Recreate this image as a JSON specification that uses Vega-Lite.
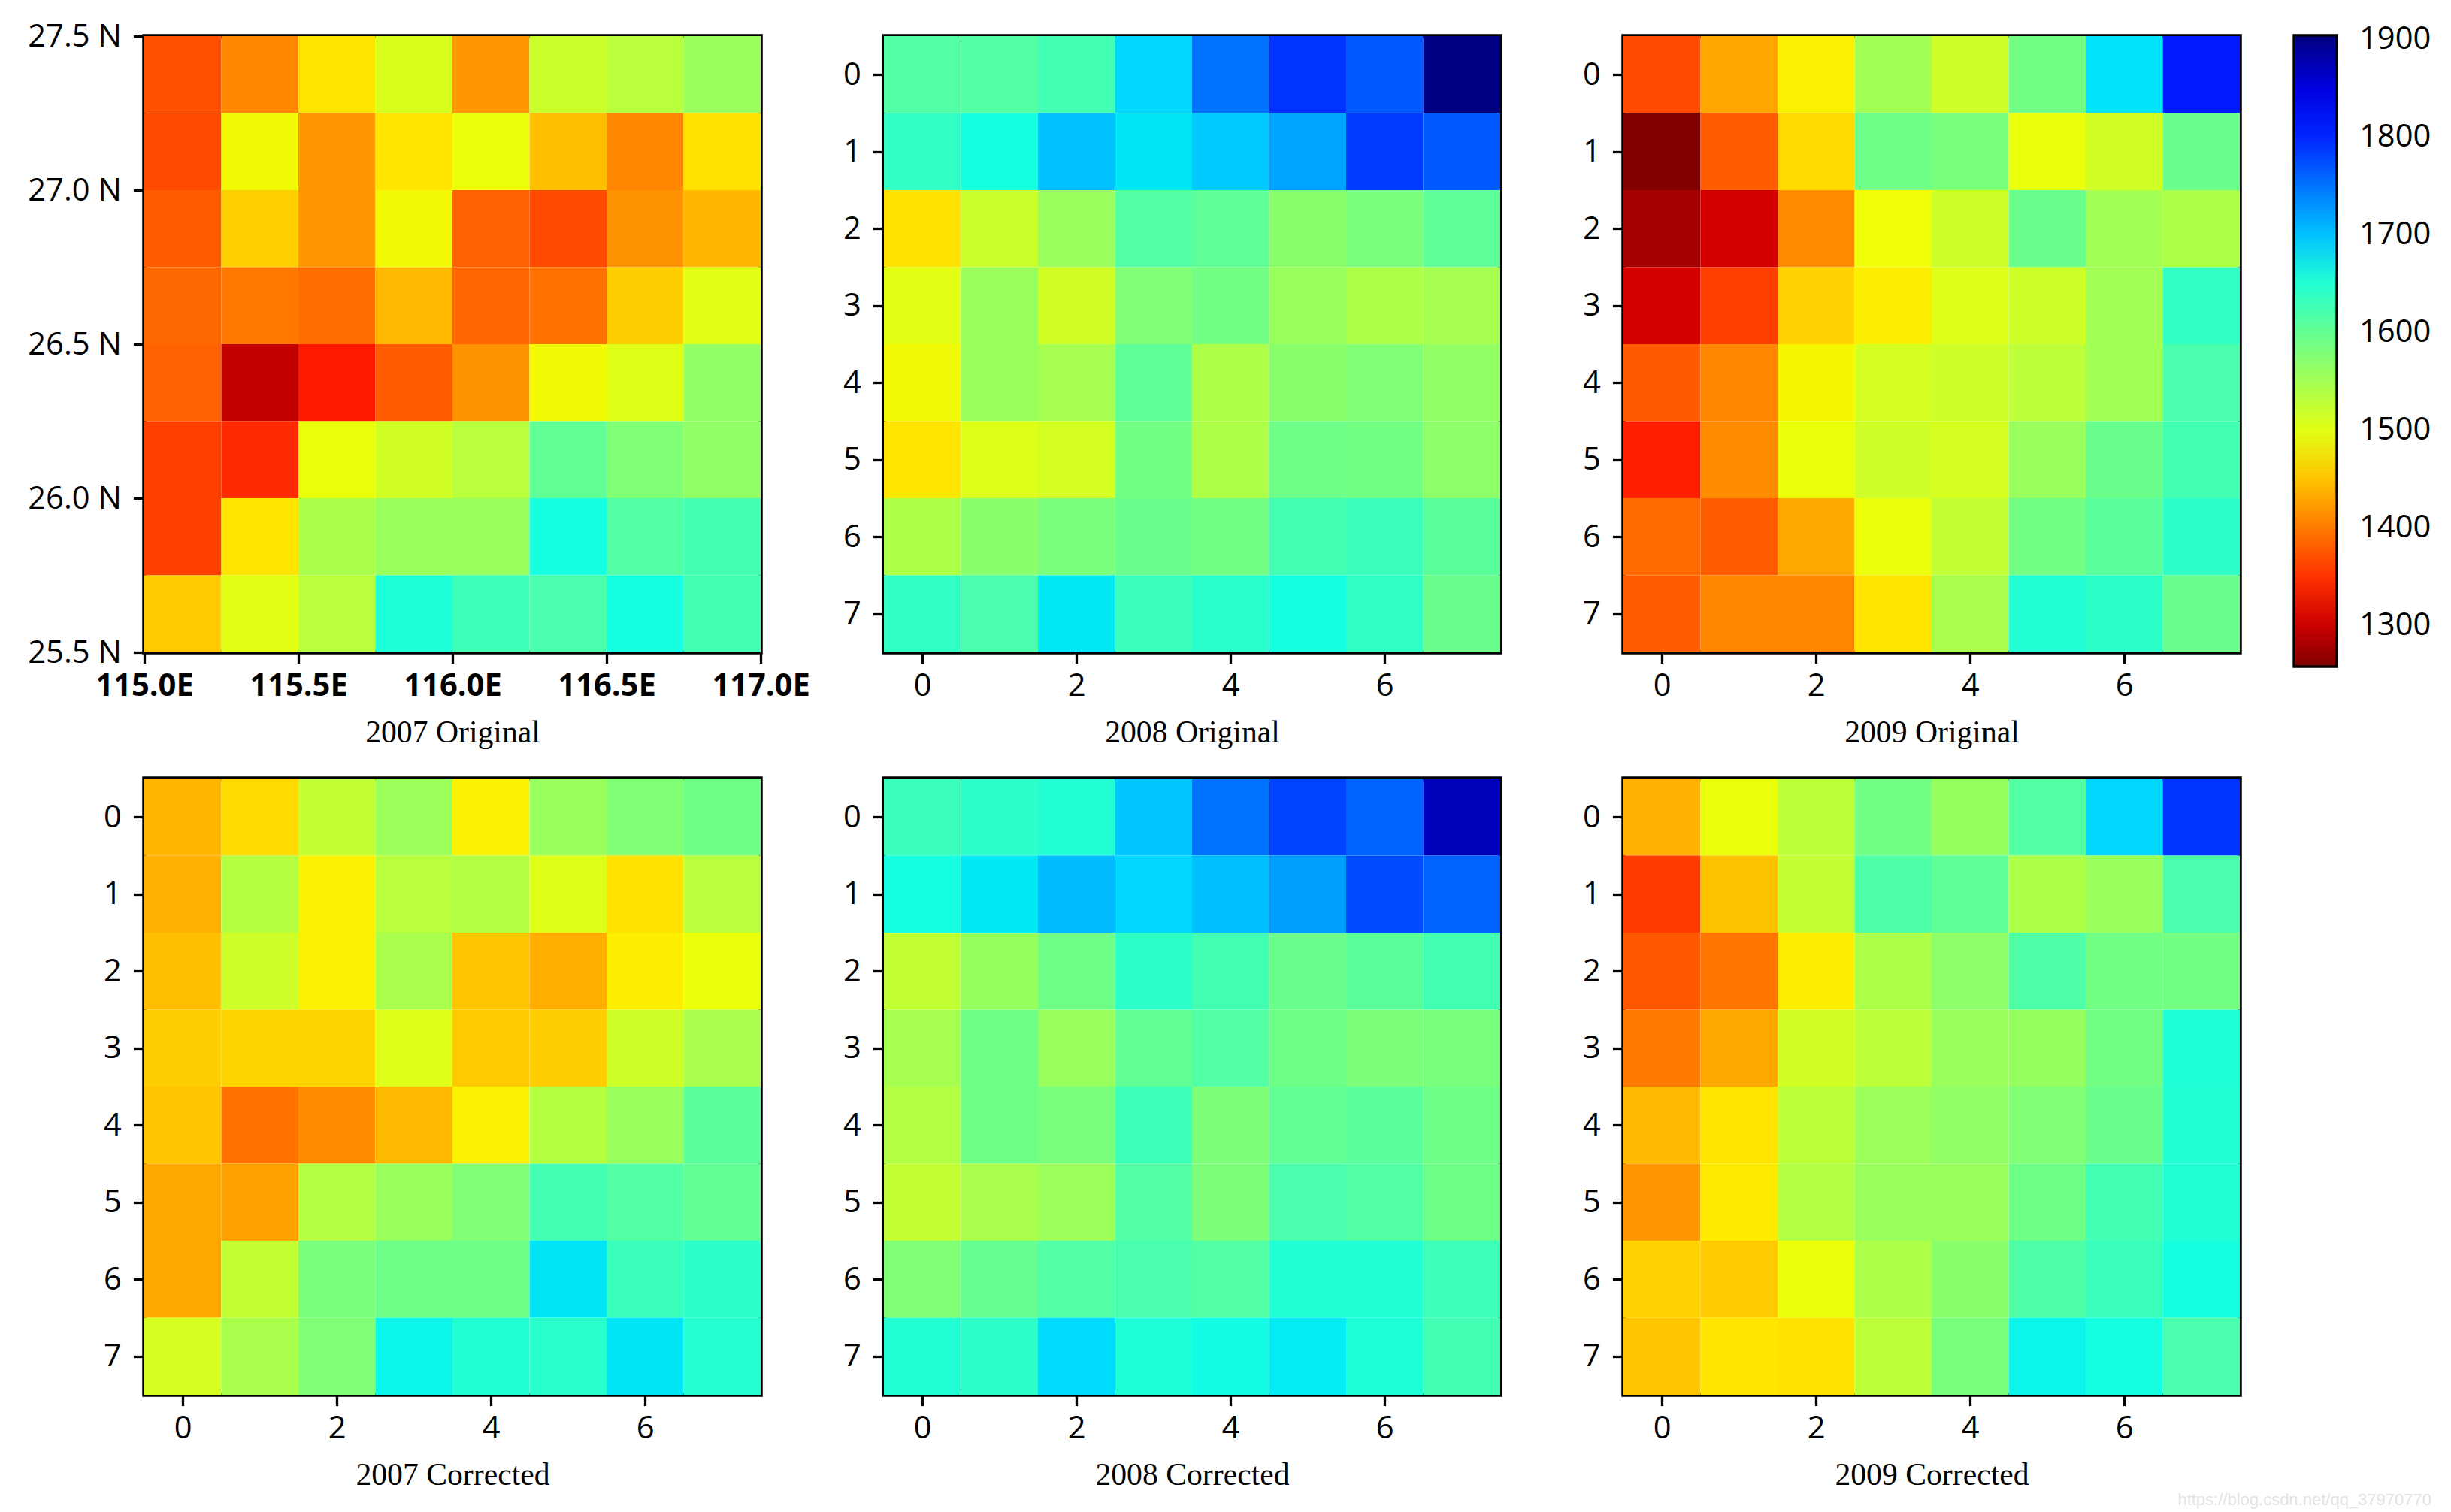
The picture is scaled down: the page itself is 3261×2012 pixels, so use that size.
{
"$schema": "https://vega.github.io/schema/vega-lite/v6.json",
"padding": {"left": 33, "top": 25, "right": 20, "bottom": 10},
"background": "white",
"title": {"text": "https://blog.csdn.net/qq_37970770", "orient": "bottom", "anchor": "end", "fontSize": 22, "color": "#e3e3e3", "font": "Liberation Sans", "fontWeight": "normal", "offset": 0},
"config": {
  "font": "Open Sans",
  "view": {"stroke": "black", "strokeWidth": 5.5},
  "axis": {"labelFont": "Open Sans", "labelFontSize": 41.7, "labelColor": "black", "tickColor": "black", "tickWidth": 3.3, "tickSize": 14.6, "domain": false, "grid": false, "labelFlush": false, "labelOverlap": false, "titleFont": "Liberation Serif", "titleFontSize": 41.7, "titleFontWeight": "normal", "titleColor": "black"},
  "axisX": {"labelPadding": 10},
  "axisY": {"labelPadding": 16},
  "legend": {"orient": "none", "legendX": 2860, "legendY": -1, "direction": "vertical", "gradientLength": 840, "gradientThickness": 57, "gradientStrokeColor": "black", "gradientStrokeWidth": 3.3, "labelFontSize": 41.7, "labelFont": "Open Sans", "labelColor": "black", "labelOffset": 30, "labelOverlap": false}
},
"datasets": {
"d1": [
{"r":0,"c":0,"v":1370},{"r":0,"c":1,"v":1408},{"r":0,"c":2,"v":1472},{"r":0,"c":3,"v":1507},{"r":0,"c":4,"v":1420},{"r":0,"c":5,"v":1519},{"r":0,"c":6,"v":1532},{"r":0,"c":7,"v":1557},
{"r":1,"c":0,"v":1367},{"r":1,"c":1,"v":1488},{"r":1,"c":2,"v":1420},{"r":1,"c":3,"v":1473},{"r":1,"c":4,"v":1492},{"r":1,"c":5,"v":1446},{"r":1,"c":6,"v":1408},{"r":1,"c":7,"v":1471},
{"r":2,"c":0,"v":1380},{"r":2,"c":1,"v":1458},{"r":2,"c":2,"v":1419},{"r":2,"c":3,"v":1488},{"r":2,"c":4,"v":1383},{"r":2,"c":5,"v":1367},{"r":2,"c":6,"v":1416},{"r":2,"c":7,"v":1441},
{"r":3,"c":0,"v":1387},{"r":3,"c":1,"v":1398},{"r":3,"c":2,"v":1391},{"r":3,"c":3,"v":1443},{"r":3,"c":4,"v":1386},{"r":3,"c":5,"v":1394},{"r":3,"c":6,"v":1457},{"r":3,"c":7,"v":1500},
{"r":4,"c":0,"v":1383},{"r":4,"c":1,"v":1295},{"r":4,"c":2,"v":1333},{"r":4,"c":3,"v":1380},{"r":4,"c":4,"v":1416},{"r":4,"c":5,"v":1488},{"r":4,"c":6,"v":1502},{"r":4,"c":7,"v":1563},
{"r":5,"c":0,"v":1359},{"r":5,"c":1,"v":1345},{"r":5,"c":2,"v":1492},{"r":5,"c":3,"v":1513},{"r":5,"c":4,"v":1532},{"r":5,"c":5,"v":1601},{"r":5,"c":6,"v":1576},{"r":5,"c":7,"v":1563},
{"r":6,"c":0,"v":1359},{"r":6,"c":1,"v":1473},{"r":6,"c":2,"v":1543},{"r":6,"c":3,"v":1557},{"r":6,"c":4,"v":1557},{"r":6,"c":5,"v":1660},{"r":6,"c":6,"v":1613},{"r":6,"c":7,"v":1626},
{"r":7,"c":0,"v":1454},{"r":7,"c":1,"v":1499},{"r":7,"c":2,"v":1532},{"r":7,"c":3,"v":1654},{"r":7,"c":4,"v":1629},{"r":7,"c":5,"v":1620},{"r":7,"c":6,"v":1660},{"r":7,"c":7,"v":1626}
],
"d2": [
{"r":0,"c":0,"v":1613},{"r":0,"c":1,"v":1613},{"r":0,"c":2,"v":1626},{"r":0,"c":3,"v":1687},{"r":0,"c":4,"v":1750},{"r":0,"c":5,"v":1791},{"r":0,"c":6,"v":1766},{"r":0,"c":7,"v":1902},
{"r":1,"c":0,"v":1638},{"r":1,"c":1,"v":1660},{"r":1,"c":2,"v":1700},{"r":1,"c":3,"v":1678},{"r":1,"c":4,"v":1695},{"r":1,"c":5,"v":1720},{"r":1,"c":6,"v":1786},{"r":1,"c":7,"v":1766},
{"r":2,"c":0,"v":1471},{"r":2,"c":1,"v":1519},{"r":2,"c":2,"v":1557},{"r":2,"c":3,"v":1613},{"r":2,"c":4,"v":1604},{"r":2,"c":5,"v":1569},{"r":2,"c":6,"v":1582},{"r":2,"c":7,"v":1604},
{"r":3,"c":0,"v":1500},{"r":3,"c":1,"v":1557},{"r":3,"c":2,"v":1513},{"r":3,"c":3,"v":1576},{"r":3,"c":4,"v":1588},{"r":3,"c":5,"v":1557},{"r":3,"c":6,"v":1541},{"r":3,"c":7,"v":1547},
{"r":4,"c":0,"v":1488},{"r":4,"c":1,"v":1557},{"r":4,"c":2,"v":1547},{"r":4,"c":3,"v":1604},{"r":4,"c":4,"v":1541},{"r":4,"c":5,"v":1569},{"r":4,"c":6,"v":1576},{"r":4,"c":7,"v":1563},
{"r":5,"c":0,"v":1472},{"r":5,"c":1,"v":1503},{"r":5,"c":2,"v":1510},{"r":5,"c":3,"v":1588},{"r":5,"c":4,"v":1541},{"r":5,"c":5,"v":1591},{"r":5,"c":6,"v":1588},{"r":5,"c":7,"v":1566},
{"r":6,"c":0,"v":1541},{"r":6,"c":1,"v":1569},{"r":6,"c":2,"v":1582},{"r":6,"c":3,"v":1594},{"r":6,"c":4,"v":1588},{"r":6,"c":5,"v":1626},{"r":6,"c":6,"v":1632},{"r":6,"c":7,"v":1607},
{"r":7,"c":0,"v":1638},{"r":7,"c":1,"v":1620},{"r":7,"c":2,"v":1676},{"r":7,"c":3,"v":1632},{"r":7,"c":4,"v":1645},{"r":7,"c":5,"v":1660},{"r":7,"c":6,"v":1638},{"r":7,"c":7,"v":1594}
],
"d3": [
{"r":0,"c":0,"v":1367},{"r":0,"c":1,"v":1430},{"r":0,"c":2,"v":1482},{"r":0,"c":3,"v":1550},{"r":0,"c":4,"v":1516},{"r":0,"c":5,"v":1588},{"r":0,"c":6,"v":1680},{"r":0,"c":7,"v":1806},
{"r":1,"c":0,"v":1258},{"r":1,"c":1,"v":1380},{"r":1,"c":2,"v":1465},{"r":1,"c":3,"v":1591},{"r":1,"c":4,"v":1582},{"r":1,"c":5,"v":1492},{"r":1,"c":6,"v":1513},{"r":1,"c":7,"v":1594},
{"r":2,"c":0,"v":1279},{"r":2,"c":1,"v":1305},{"r":2,"c":2,"v":1411},{"r":2,"c":3,"v":1490},{"r":2,"c":4,"v":1516},{"r":2,"c":5,"v":1594},{"r":2,"c":6,"v":1550},{"r":2,"c":7,"v":1541},
{"r":3,"c":0,"v":1305},{"r":3,"c":1,"v":1359},{"r":3,"c":2,"v":1460},{"r":3,"c":3,"v":1479},{"r":3,"c":4,"v":1503},{"r":3,"c":5,"v":1516},{"r":3,"c":6,"v":1550},{"r":3,"c":7,"v":1638},
{"r":4,"c":0,"v":1378},{"r":4,"c":1,"v":1408},{"r":4,"c":2,"v":1485},{"r":4,"c":3,"v":1510},{"r":4,"c":4,"v":1516},{"r":4,"c":5,"v":1529},{"r":4,"c":6,"v":1550},{"r":4,"c":7,"v":1620},
{"r":5,"c":0,"v":1337},{"r":5,"c":1,"v":1411},{"r":5,"c":2,"v":1492},{"r":5,"c":3,"v":1516},{"r":5,"c":4,"v":1510},{"r":5,"c":5,"v":1557},{"r":5,"c":6,"v":1594},{"r":5,"c":7,"v":1626},
{"r":6,"c":0,"v":1389},{"r":6,"c":1,"v":1380},{"r":6,"c":2,"v":1431},{"r":6,"c":3,"v":1492},{"r":6,"c":4,"v":1525},{"r":6,"c":5,"v":1588},{"r":6,"c":6,"v":1607},{"r":6,"c":7,"v":1641},
{"r":7,"c":0,"v":1380},{"r":7,"c":1,"v":1408},{"r":7,"c":2,"v":1408},{"r":7,"c":3,"v":1473},{"r":7,"c":4,"v":1544},{"r":7,"c":5,"v":1651},{"r":7,"c":6,"v":1641},{"r":7,"c":7,"v":1594}
],
"d4": [
{"r":0,"c":0,"v":1441},{"r":0,"c":1,"v":1465},{"r":0,"c":2,"v":1525},{"r":0,"c":3,"v":1554},{"r":0,"c":4,"v":1482},{"r":0,"c":5,"v":1557},{"r":0,"c":6,"v":1576},{"r":0,"c":7,"v":1591},
{"r":1,"c":0,"v":1438},{"r":1,"c":1,"v":1535},{"r":1,"c":2,"v":1482},{"r":1,"c":3,"v":1532},{"r":1,"c":4,"v":1538},{"r":1,"c":5,"v":1503},{"r":1,"c":6,"v":1471},{"r":1,"c":7,"v":1532},
{"r":2,"c":0,"v":1446},{"r":2,"c":1,"v":1516},{"r":2,"c":2,"v":1482},{"r":2,"c":3,"v":1544},{"r":2,"c":4,"v":1451},{"r":2,"c":5,"v":1435},{"r":2,"c":6,"v":1479},{"r":2,"c":7,"v":1494},
{"r":3,"c":0,"v":1457},{"r":3,"c":1,"v":1462},{"r":3,"c":2,"v":1462},{"r":3,"c":3,"v":1503},{"r":3,"c":4,"v":1454},{"r":3,"c":5,"v":1457},{"r":3,"c":6,"v":1516},{"r":3,"c":7,"v":1544},
{"r":4,"c":0,"v":1451},{"r":4,"c":1,"v":1394},{"r":4,"c":2,"v":1411},{"r":4,"c":3,"v":1443},{"r":4,"c":4,"v":1482},{"r":4,"c":5,"v":1535},{"r":4,"c":6,"v":1557},{"r":4,"c":7,"v":1607},
{"r":5,"c":0,"v":1432},{"r":5,"c":1,"v":1427},{"r":5,"c":2,"v":1538},{"r":5,"c":3,"v":1557},{"r":5,"c":4,"v":1576},{"r":5,"c":5,"v":1626},{"r":5,"c":6,"v":1613},{"r":5,"c":7,"v":1601},
{"r":6,"c":0,"v":1432},{"r":6,"c":1,"v":1525},{"r":6,"c":2,"v":1582},{"r":6,"c":3,"v":1591},{"r":6,"c":4,"v":1591},{"r":6,"c":5,"v":1678},{"r":6,"c":6,"v":1632},{"r":6,"c":7,"v":1641},
{"r":7,"c":0,"v":1510},{"r":7,"c":1,"v":1544},{"r":7,"c":2,"v":1576},{"r":7,"c":3,"v":1668},{"r":7,"c":4,"v":1651},{"r":7,"c":5,"v":1645},{"r":7,"c":6,"v":1678},{"r":7,"c":7,"v":1648}
],
"d5": [
{"r":0,"c":0,"v":1632},{"r":0,"c":1,"v":1641},{"r":0,"c":2,"v":1651},{"r":0,"c":3,"v":1697},{"r":0,"c":4,"v":1750},{"r":0,"c":5,"v":1781},{"r":0,"c":6,"v":1761},{"r":0,"c":7,"v":1871},
{"r":1,"c":0,"v":1660},{"r":1,"c":1,"v":1676},{"r":1,"c":2,"v":1705},{"r":1,"c":3,"v":1687},{"r":1,"c":4,"v":1702},{"r":1,"c":5,"v":1723},{"r":1,"c":6,"v":1776},{"r":1,"c":7,"v":1761},
{"r":2,"c":0,"v":1525},{"r":2,"c":1,"v":1560},{"r":2,"c":2,"v":1591},{"r":2,"c":3,"v":1641},{"r":2,"c":4,"v":1626},{"r":2,"c":5,"v":1594},{"r":2,"c":6,"v":1607},{"r":2,"c":7,"v":1626},
{"r":3,"c":0,"v":1547},{"r":3,"c":1,"v":1591},{"r":3,"c":2,"v":1557},{"r":3,"c":3,"v":1601},{"r":3,"c":4,"v":1613},{"r":3,"c":5,"v":1591},{"r":3,"c":6,"v":1579},{"r":3,"c":7,"v":1582},
{"r":4,"c":0,"v":1538},{"r":4,"c":1,"v":1591},{"r":4,"c":2,"v":1582},{"r":4,"c":3,"v":1629},{"r":4,"c":4,"v":1579},{"r":4,"c":5,"v":1601},{"r":4,"c":6,"v":1607},{"r":4,"c":7,"v":1591},
{"r":5,"c":0,"v":1525},{"r":5,"c":1,"v":1544},{"r":5,"c":2,"v":1554},{"r":5,"c":3,"v":1613},{"r":5,"c":4,"v":1579},{"r":5,"c":5,"v":1620},{"r":5,"c":6,"v":1613},{"r":5,"c":7,"v":1591},
{"r":6,"c":0,"v":1576},{"r":6,"c":1,"v":1598},{"r":6,"c":2,"v":1613},{"r":6,"c":3,"v":1620},{"r":6,"c":4,"v":1613},{"r":6,"c":5,"v":1651},{"r":6,"c":6,"v":1651},{"r":6,"c":7,"v":1629},
{"r":7,"c":0,"v":1651},{"r":7,"c":1,"v":1641},{"r":7,"c":2,"v":1684},{"r":7,"c":3,"v":1654},{"r":7,"c":4,"v":1663},{"r":7,"c":5,"v":1674},{"r":7,"c":6,"v":1654},{"r":7,"c":7,"v":1626}
],
"d6": [
{"r":0,"c":0,"v":1438},{"r":0,"c":1,"v":1492},{"r":0,"c":2,"v":1529},{"r":0,"c":3,"v":1588},{"r":0,"c":4,"v":1560},{"r":0,"c":5,"v":1613},{"r":0,"c":6,"v":1687},{"r":0,"c":7,"v":1791},
{"r":1,"c":0,"v":1356},{"r":1,"c":1,"v":1449},{"r":1,"c":2,"v":1525},{"r":1,"c":3,"v":1616},{"r":1,"c":4,"v":1604},{"r":1,"c":5,"v":1541},{"r":1,"c":6,"v":1557},{"r":1,"c":7,"v":1620},
{"r":2,"c":0,"v":1375},{"r":2,"c":1,"v":1397},{"r":2,"c":2,"v":1479},{"r":2,"c":3,"v":1541},{"r":2,"c":4,"v":1566},{"r":2,"c":5,"v":1616},{"r":2,"c":6,"v":1588},{"r":2,"c":7,"v":1588},
{"r":3,"c":0,"v":1399},{"r":3,"c":1,"v":1432},{"r":3,"c":2,"v":1513},{"r":3,"c":3,"v":1529},{"r":3,"c":4,"v":1557},{"r":3,"c":5,"v":1560},{"r":3,"c":6,"v":1588},{"r":3,"c":7,"v":1654},
{"r":4,"c":0,"v":1443},{"r":4,"c":1,"v":1473},{"r":4,"c":2,"v":1529},{"r":4,"c":3,"v":1554},{"r":4,"c":4,"v":1563},{"r":4,"c":5,"v":1576},{"r":4,"c":6,"v":1594},{"r":4,"c":7,"v":1651},
{"r":5,"c":0,"v":1419},{"r":5,"c":1,"v":1477},{"r":5,"c":2,"v":1538},{"r":5,"c":3,"v":1557},{"r":5,"c":4,"v":1557},{"r":5,"c":5,"v":1591},{"r":5,"c":6,"v":1626},{"r":5,"c":7,"v":1651},
{"r":6,"c":0,"v":1460},{"r":6,"c":1,"v":1454},{"r":6,"c":2,"v":1492},{"r":6,"c":3,"v":1541},{"r":6,"c":4,"v":1569},{"r":6,"c":5,"v":1616},{"r":6,"c":6,"v":1632},{"r":6,"c":7,"v":1660},
{"r":7,"c":0,"v":1451},{"r":7,"c":1,"v":1473},{"r":7,"c":2,"v":1471},{"r":7,"c":3,"v":1529},{"r":7,"c":4,"v":1582},{"r":7,"c":5,"v":1668},{"r":7,"c":6,"v":1660},{"r":7,"c":7,"v":1620}
]
},
"columns": 3,
"spacing": {"row": 168, "column": 164},
"bounds": "flush",
"concat": [
{"data": {"name": "d1"}, "width": 820, "height": 820,
 "mark": {"type": "rect", "width": 102.5, "height": 102.5},
 "encoding": {
  "x": {"field": "c", "type": "quantitative", "scale": {"domain": [-0.5, 7.5], "nice": false, "zero": false}, "axis": {"values": [-0.5, 1.5, 3.5, 5.5, 7.5], "labelExpr": "format(115 + (datum.value + 0.5) * 0.25, '.1f') + 'E'", "labelFontWeight": "bold", "title": "2007 Original", "titleX": 410, "titleY": 119, "titleBaseline": "alphabetic", "titleAlign": "center"}},
  "y": {"field": "r", "type": "quantitative", "scale": {"domain": [-0.5, 7.5], "nice": false, "zero": false, "reverse": true}, "axis": {"values": [-0.5, 1.5, 3.5, 5.5, 7.5], "labelExpr": "format(27.5 - (datum.value + 0.5) * 0.25, '.1f') + ' N'", "title": null}},
  "color": {"field": "v", "type": "quantitative", "scale": {"type": "linear", "domain": [1258, 1316.1, 1329.1, 1477.6, 1484.1, 1490.6, 1661.75, 1677.9, 1684.4, 1823.25, 1832.9, 1904], "range": ["#800000", "#e80000", "#ff1300", "#ffec00", "#f7f500", "#eeff08", "#14ffe2", "#00e6f7", "#00dbff", "#0000ff", "#0000ff", "#000080"], "interpolate": "rgb"}, "legend": {"type": "gradient", "values": [1300, 1400, 1500, 1600, 1700, 1800, 1900], "format": "d", "title": null, "labelOffset": 30}}
 }},
{"data": {"name": "d2"}, "width": 820, "height": 820,
 "mark": {"type": "rect", "width": 102.5, "height": 102.5},
 "encoding": {
  "x": {"field": "c", "type": "quantitative", "scale": {"domain": [-0.5, 7.5], "nice": false, "zero": false}, "axis": {"values": [0, 2, 4, 6], "title": "2008 Original", "titleX": 410, "titleY": 119, "titleBaseline": "alphabetic", "titleAlign": "center"}},
  "y": {"field": "r", "type": "quantitative", "scale": {"domain": [-0.5, 7.5], "nice": false, "zero": false, "reverse": true}, "axis": {"values": [0, 1, 2, 3, 4, 5, 6, 7], "title": null}},
  "color": {"field": "v", "type": "quantitative", "scale": {"type": "linear", "domain": [1258, 1316.1, 1329.1, 1477.6, 1484.1, 1490.6, 1661.75, 1677.9, 1684.4, 1823.25, 1832.9, 1904], "range": ["#800000", "#e80000", "#ff1300", "#ffec00", "#f7f500", "#eeff08", "#14ffe2", "#00e6f7", "#00dbff", "#0000ff", "#0000ff", "#000080"], "interpolate": "rgb"}, "legend": {"type": "gradient", "values": [1300, 1400, 1500, 1600, 1700, 1800, 1900], "format": "d", "title": null, "labelOffset": 30}}
 }},
{"data": {"name": "d3"}, "width": 820, "height": 820,
 "mark": {"type": "rect", "width": 102.5, "height": 102.5},
 "encoding": {
  "x": {"field": "c", "type": "quantitative", "scale": {"domain": [-0.5, 7.5], "nice": false, "zero": false}, "axis": {"values": [0, 2, 4, 6], "title": "2009 Original", "titleX": 410, "titleY": 119, "titleBaseline": "alphabetic", "titleAlign": "center"}},
  "y": {"field": "r", "type": "quantitative", "scale": {"domain": [-0.5, 7.5], "nice": false, "zero": false, "reverse": true}, "axis": {"values": [0, 1, 2, 3, 4, 5, 6, 7], "title": null}},
  "color": {"field": "v", "type": "quantitative", "scale": {"type": "linear", "domain": [1258, 1316.1, 1329.1, 1477.6, 1484.1, 1490.6, 1661.75, 1677.9, 1684.4, 1823.25, 1832.9, 1904], "range": ["#800000", "#e80000", "#ff1300", "#ffec00", "#f7f500", "#eeff08", "#14ffe2", "#00e6f7", "#00dbff", "#0000ff", "#0000ff", "#000080"], "interpolate": "rgb"}, "legend": {"type": "gradient", "values": [1300, 1400, 1500, 1600, 1700, 1800, 1900], "format": "d", "title": null, "labelOffset": 30}}
 }},
{"data": {"name": "d4"}, "width": 820, "height": 820,
 "mark": {"type": "rect", "width": 102.5, "height": 102.5},
 "encoding": {
  "x": {"field": "c", "type": "quantitative", "scale": {"domain": [-0.5, 7.5], "nice": false, "zero": false}, "axis": {"values": [0, 2, 4, 6], "title": "2007 Corrected", "titleX": 410, "titleY": 119, "titleBaseline": "alphabetic", "titleAlign": "center"}},
  "y": {"field": "r", "type": "quantitative", "scale": {"domain": [-0.5, 7.5], "nice": false, "zero": false, "reverse": true}, "axis": {"values": [0, 1, 2, 3, 4, 5, 6, 7], "title": null}},
  "color": {"field": "v", "type": "quantitative", "scale": {"type": "linear", "domain": [1258, 1316.1, 1329.1, 1477.6, 1484.1, 1490.6, 1661.75, 1677.9, 1684.4, 1823.25, 1832.9, 1904], "range": ["#800000", "#e80000", "#ff1300", "#ffec00", "#f7f500", "#eeff08", "#14ffe2", "#00e6f7", "#00dbff", "#0000ff", "#0000ff", "#000080"], "interpolate": "rgb"}, "legend": {"type": "gradient", "values": [1300, 1400, 1500, 1600, 1700, 1800, 1900], "format": "d", "title": null, "labelOffset": 30}}
 }},
{"data": {"name": "d5"}, "width": 820, "height": 820,
 "mark": {"type": "rect", "width": 102.5, "height": 102.5},
 "encoding": {
  "x": {"field": "c", "type": "quantitative", "scale": {"domain": [-0.5, 7.5], "nice": false, "zero": false}, "axis": {"values": [0, 2, 4, 6], "title": "2008 Corrected", "titleX": 410, "titleY": 119, "titleBaseline": "alphabetic", "titleAlign": "center"}},
  "y": {"field": "r", "type": "quantitative", "scale": {"domain": [-0.5, 7.5], "nice": false, "zero": false, "reverse": true}, "axis": {"values": [0, 1, 2, 3, 4, 5, 6, 7], "title": null}},
  "color": {"field": "v", "type": "quantitative", "scale": {"type": "linear", "domain": [1258, 1316.1, 1329.1, 1477.6, 1484.1, 1490.6, 1661.75, 1677.9, 1684.4, 1823.25, 1832.9, 1904], "range": ["#800000", "#e80000", "#ff1300", "#ffec00", "#f7f500", "#eeff08", "#14ffe2", "#00e6f7", "#00dbff", "#0000ff", "#0000ff", "#000080"], "interpolate": "rgb"}, "legend": {"type": "gradient", "values": [1300, 1400, 1500, 1600, 1700, 1800, 1900], "format": "d", "title": null, "labelOffset": 30}}
 }},
{"data": {"name": "d6"}, "width": 820, "height": 820,
 "mark": {"type": "rect", "width": 102.5, "height": 102.5},
 "encoding": {
  "x": {"field": "c", "type": "quantitative", "scale": {"domain": [-0.5, 7.5], "nice": false, "zero": false}, "axis": {"values": [0, 2, 4, 6], "title": "2009 Corrected", "titleX": 410, "titleY": 119, "titleBaseline": "alphabetic", "titleAlign": "center"}},
  "y": {"field": "r", "type": "quantitative", "scale": {"domain": [-0.5, 7.5], "nice": false, "zero": false, "reverse": true}, "axis": {"values": [0, 1, 2, 3, 4, 5, 6, 7], "title": null}},
  "color": {"field": "v", "type": "quantitative", "scale": {"type": "linear", "domain": [1258, 1316.1, 1329.1, 1477.6, 1484.1, 1490.6, 1661.75, 1677.9, 1684.4, 1823.25, 1832.9, 1904], "range": ["#800000", "#e80000", "#ff1300", "#ffec00", "#f7f500", "#eeff08", "#14ffe2", "#00e6f7", "#00dbff", "#0000ff", "#0000ff", "#000080"], "interpolate": "rgb"}, "legend": {"type": "gradient", "values": [1300, 1400, 1500, 1600, 1700, 1800, 1900], "format": "d", "title": null, "labelOffset": 30}}
 }}
]
}
